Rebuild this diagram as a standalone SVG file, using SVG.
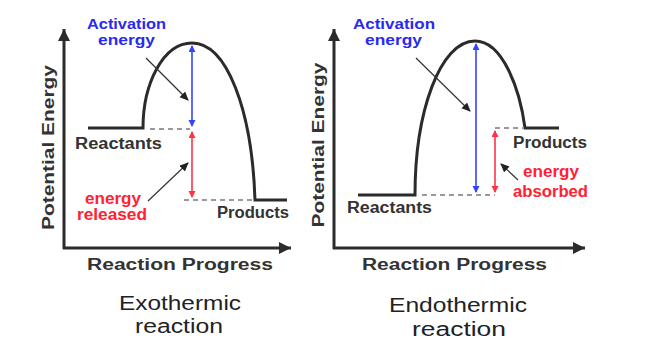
<svg xmlns="http://www.w3.org/2000/svg" width="650" height="360" viewBox="0 0 650 360">
<style>
.ax{stroke:#2b2b2b;stroke-width:3;fill:none}
.curve{stroke:#2b2b2b;stroke-width:3;fill:none}
.dash{stroke:#9a9a9a;stroke-width:2;stroke-dasharray:5 4;fill:none}
.blue{stroke:#3344ff;stroke-width:1.6;fill:none}
.red{stroke:#ff3344;stroke-width:1.6;fill:none}
.ptr{stroke:#333;stroke-width:1.2;fill:none}
text{font-family:"Liberation Sans",Arial,sans-serif}
.lb{font-size:16px;font-weight:bold;fill:#333}
.bl{font-size:15px;font-weight:bold;fill:#2a2aee}
.rd{font-size:16px;font-weight:bold;fill:#ff2233}
.cap{font-size:20px;fill:#222}
</style>
<defs>
<marker id="axh" markerUnits="userSpaceOnUse" markerWidth="14" markerHeight="14" refX="12" refY="6" orient="auto"><path d="M0,0 L12,6 L0,12 Z" fill="#2b2b2b"/></marker>
<marker id="bh" markerUnits="userSpaceOnUse" markerWidth="8" markerHeight="8" refX="6" refY="3.5" orient="auto-start-reverse"><path d="M0,0 L7,3.5 L0,7 Z" fill="#3344ff"/></marker>
<marker id="rh" markerUnits="userSpaceOnUse" markerWidth="8" markerHeight="8" refX="6" refY="3.5" orient="auto-start-reverse"><path d="M0,0 L7,3.5 L0,7 Z" fill="#ff3344"/></marker>
<marker id="ph" markerUnits="userSpaceOnUse" markerWidth="10" markerHeight="10" refX="8" refY="4" orient="auto"><path d="M0,0 L9,4 L0,8 Z" fill="#222"/></marker>
</defs>

<g id="exothermic">
  <g id="exo-axes">
    <path class="ax" d="M64,249 L64,29" marker-end="url(#axh)"/>
    <path class="ax" d="M63,248 L291,248" marker-end="url(#axh)"/>
    <text class="lb" transform="translate(54,147.5) rotate(-90)" text-anchor="middle" font-size="17" textLength="165" lengthAdjust="spacingAndGlyphs">Potential Energy</text>
    <text class="lb" x="87" y="270" font-size="17" textLength="186" lengthAdjust="spacingAndGlyphs">Reaction Progress</text>
  </g>
  <g id="exo-curve">
    <path class="curve" d="M88,128 L143,128 C143,84 163,43 192,43 C227,43 252,110 255,200 L287,200"/>
  </g>
  <g id="exo-labels">
    <text class="lb" x="75" y="149" font-size="17" textLength="87" lengthAdjust="spacingAndGlyphs">Reactants</text>
    <text class="lb" x="217" y="218" font-size="17" textLength="72" lengthAdjust="spacingAndGlyphs">Products</text>
    <text class="bl" x="87" y="29" textLength="79" lengthAdjust="spacingAndGlyphs">Activation</text>
    <text class="bl" x="98" y="45" textLength="57" lengthAdjust="spacingAndGlyphs">energy</text>
    <text class="rd" x="85" y="204" textLength="56" lengthAdjust="spacingAndGlyphs">energy</text>
    <text class="rd" x="77" y="220" textLength="70" lengthAdjust="spacingAndGlyphs">released</text>
    <text class="cap" x="180" y="310" text-anchor="middle" textLength="122" lengthAdjust="spacingAndGlyphs">Exothermic</text>
    <text class="cap" x="179" y="333" text-anchor="middle" textLength="88" lengthAdjust="spacingAndGlyphs">reaction</text>
  </g>
</g>

<g id="endothermic">
  <g id="endo-axes">
    <path class="ax" d="M334,249 L334,29" marker-end="url(#axh)"/>
    <path class="ax" d="M333,248 L585,248" marker-end="url(#axh)"/>
    <text class="lb" transform="translate(324,145) rotate(-90)" text-anchor="middle" font-size="17" textLength="165" lengthAdjust="spacingAndGlyphs">Potential Energy</text>
    <text class="lb" x="362" y="270" font-size="17" textLength="185" lengthAdjust="spacingAndGlyphs">Reaction Progress</text>
  </g>
  <g id="endo-curve">
    <path class="curve" d="M358,195 L415,195 C415,112 440,41 475,41 C503,41 520,90 525,128 L559,128"/>
  </g>
  <g id="endo-labels">
    <text class="lb" x="347" y="213" font-size="17" textLength="85" lengthAdjust="spacingAndGlyphs">Reactants</text>
    <text class="lb" x="513" y="148" font-size="17" textLength="74" lengthAdjust="spacingAndGlyphs">Products</text>
    <text class="bl" x="353" y="29" textLength="82" lengthAdjust="spacingAndGlyphs">Activation</text>
    <text class="bl" x="365" y="45" textLength="57" lengthAdjust="spacingAndGlyphs">energy</text>
    <text class="rd" x="523" y="177" textLength="56" lengthAdjust="spacingAndGlyphs">energy</text>
    <text class="rd" x="513" y="197" textLength="75" lengthAdjust="spacingAndGlyphs">absorbed</text>
    <text class="cap" x="458" y="312" text-anchor="middle" textLength="138" lengthAdjust="spacingAndGlyphs">Endothermic</text>
    <text class="cap" x="459" y="336" text-anchor="middle" textLength="94" lengthAdjust="spacingAndGlyphs">reaction</text>
  </g>
</g>

<g id="connectors">
  <path class="dash" d="M150,129 L190,129"/>
  <path class="dash" d="M184,200 L254,200"/>
  <path class="blue" d="M192,46 L192,126" marker-start="url(#bh)" marker-end="url(#bh)"/>
  <path class="red" d="M192,132 L192,197" marker-start="url(#rh)" marker-end="url(#rh)"/>
  <path class="ptr" d="M146,58 L188,100" marker-end="url(#ph)"/>
  <path class="ptr" d="M148,201 L188,163" marker-end="url(#ph)"/>

  <path class="dash" d="M422,195 L495,195"/>
  <path class="dash" d="M495,128 L524,128"/>
  <path class="blue" d="M476,44 L476,192" marker-start="url(#bh)" marker-end="url(#bh)"/>
  <path class="red" d="M495,131 L495,192" marker-start="url(#rh)" marker-end="url(#rh)"/>
  <path class="ptr" d="M416,58 L470,111" marker-end="url(#ph)"/>
  <path class="ptr" d="M518,180 L501,164" marker-end="url(#ph)"/>
</g>
</svg>
